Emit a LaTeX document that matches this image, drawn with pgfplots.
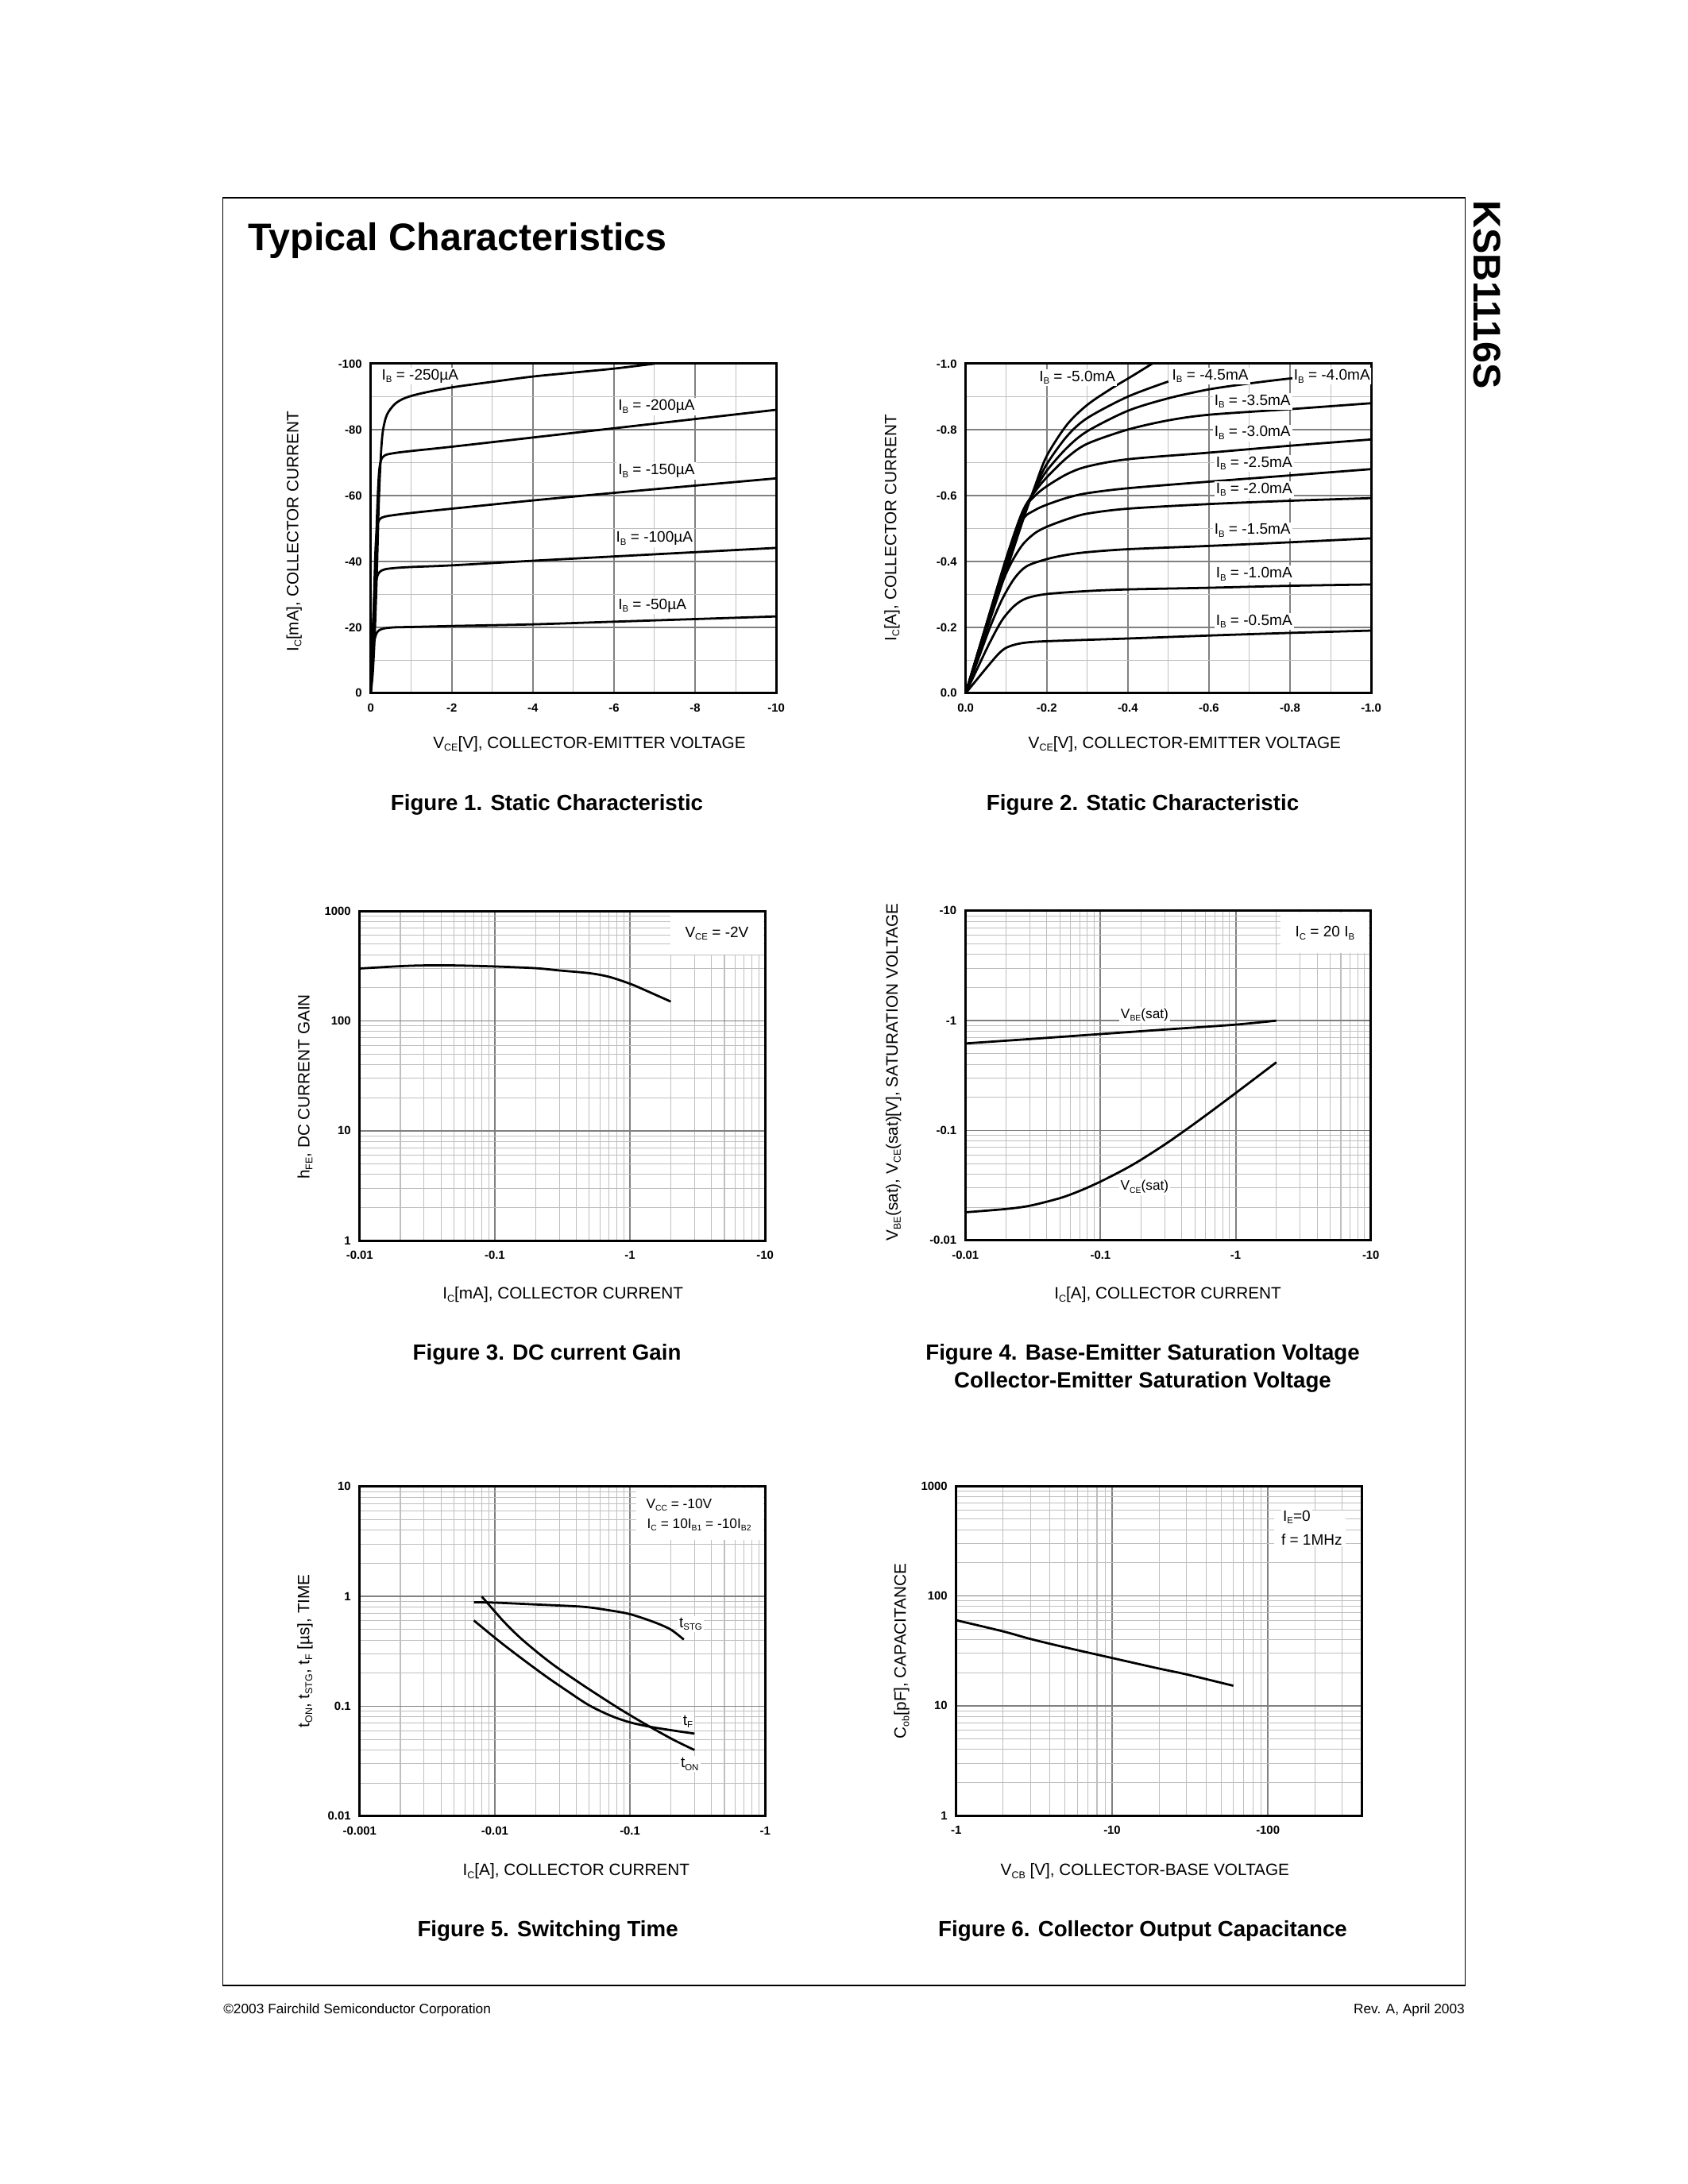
\documentclass[border=0pt]{standalone}
\usepackage{fontspec}
\setmainfont{Liberation Sans}
\usepackage{graphicx}
\usepackage{pgfplots}
\pgfplotsset{compat=1.18}
\newcommand\sub[1]{\raisebox{-0.35ex}{\scalebox{0.6}{#1}}}
\newcommand\tickfont{\fontsize{4.3}{4.8}\selectfont\bfseries}
\newcommand\annofont{\fontsize{5.5}{6.5}\selectfont}
\newcommand\labfont{\fontsize{6}{7}\selectfont}
\newcommand\capfont{\fontsize{8}{9.6}\selectfont\bfseries}
\tikzset{
 anno/.style={font=\annofont, fill=white, inner sep=0.6bp},
 box/.style={font=\annofont, fill=white, inner sep=0pt},
}
\pgfplotsset{
 ds/.style={
   scale only axis, width=147bp, height=119.5bp, anchor=south west,
   axis line style={line width=0.9bp, black},
   grid=both,
   major grid style={line width=0.55bp, draw=black!50},
   minor grid style={line width=0.3bp, draw=black!25},
   major tick length=0pt, minor tick length=0pt,
   tick style={draw=none},
   tick label style={font=\tickfont, inner sep=0pt},
   xticklabel style={anchor=north, yshift=-3.6bp},
   yticklabel style={anchor=east, xshift=-3bp},
 },
 crv/.style={black, line width=0.8bp, smooth, tension=0.5, mark=none},
}
\begin{document}
\begin{tikzpicture}[x=1bp,y=1bp]
\useasboundingbox (0,0) rectangle (612,792);
\fill[white] (0,0) rectangle (612,792);
\draw[line width=0.5bp] (80.8,72) rectangle (531.2,720.3);
\node[anchor=base west, font=\fontsize{14}{16}\selectfont\bfseries, inner sep=0pt] at (89.9,701.1) {Typical Characteristics};
\node[anchor=base west, rotate=-90, font=\fontsize{14}{16}\selectfont\bfseries, inner sep=0pt] at (534.5,719.5) {KSB1116S};
\node[anchor=base west, font=\fontsize{5}{6}\selectfont, inner sep=0pt] at (80.8,61.7) {©2003 Fairchild Semiconductor Corporation};
\node[anchor=base east, font=\fontsize{5}{6}\selectfont, inner sep=0pt] at (531.2,61.7) {Rev. A, April 2003};

% ---------------- Figure 1 ----------------
\begin{axis}[ds, at={(134.4bp,540.6bp)},
  xmin=0, xmax=10, ymin=0, ymax=100,
  xtick={0,2,4,6,8,10}, xticklabels={0,-2,-4,-6,-8,-10},
  ytick={0,20,40,60,80,100}, yticklabels={0,-20,-40,-60,-80,-100},
  minor x tick num=1, minor y tick num=1]
\addplot[crv] coordinates {(0,0)(0.05,6)(0.1,18)(0.15,36)(0.2,58)(0.25,72)(0.3,79.5)(0.4,84.5)(0.6,87.8)(0.85,89.6)(1.25,91)(2,92.8)(3,94.5)(4,96.1)(5,97.3)(6,98.5)(7,100)};
\addplot[crv] coordinates {(0,0)(0.05,10)(0.1,28)(0.15,52)(0.2,66)(0.25,70.5)(0.35,72.2)(0.6,72.9)(1,73.5)(2,74.8)(4,77.6)(6,80.4)(8,83.2)(10,86)};
\addplot[crv] coordinates {(0,0)(0.04,10)(0.08,28)(0.12,44)(0.16,50.5)(0.22,52.8)(0.35,53.6)(0.6,54.1)(1,54.7)(2,56)(4,58.5)(6,60.8)(8,63)(10,65.2)};
\addplot[crv] coordinates {(0,0)(0.03,10)(0.06,22)(0.1,31)(0.15,35)(0.22,36.8)(0.35,37.6)(0.6,38)(1,38.3)(2,38.8)(4,40.2)(6,41.5)(8,42.8)(10,44.1)};
\addplot[crv] coordinates {(0,0)(0.02,6)(0.05,12.5)(0.1,16.5)(0.15,18.3)(0.22,19.2)(0.35,19.7)(0.6,20)(1,20.1)(2,20.4)(4,20.9)(6,21.7)(8,22.5)(10,23.3)};
\node[anno, anchor=west] at (axis cs:0.22,96.2) {I\sub{B} = -250µA};
\node[anno, anchor=west] at (axis cs:6.05,87.0) {I\sub{B} = -200µA};
\node[anno, anchor=west] at (axis cs:6.05,67.4) {I\sub{B} = -150µA};
\node[anno, anchor=west] at (axis cs:6.0,47.0) {I\sub{B} = -100µA};
\node[anno, anchor=west] at (axis cs:6.05,26.6) {I\sub{B} = -50µA};
\end{axis}

% ---------------- Figure 2 ----------------
\begin{axis}[ds, at={(350.1bp,540.6bp)},
  xmin=0, xmax=1, ymin=0, ymax=1,
  xtick={0,0.2,0.4,0.6,0.8,1}, xticklabels={0.0,-0.2,-0.4,-0.6,-0.8,-1.0},
  ytick={0,0.2,0.4,0.6,0.8,1}, yticklabels={0.0,-0.2,-0.4,-0.6,-0.8,-1.0},
  minor x tick num=1, minor y tick num=1]
\addplot[crv] coordinates {(0,0)(0.02,0.03)(0.05,0.075)(0.08,0.118)(0.1,0.138)(0.13,0.15)(0.17,0.156)(0.25,0.16)(0.4,0.166)(0.6,0.175)(0.8,0.183)(1,0.19)};
\addplot[crv] coordinates {(0,0)(0.03,0.078)(0.06,0.155)(0.09,0.222)(0.12,0.265)(0.15,0.288)(0.2,0.301)(0.3,0.31)(0.4,0.315)(0.6,0.32)(0.8,0.326)(1,0.33)};
\addplot[crv] coordinates {(0,0)(0.03,0.1)(0.06,0.2)(0.09,0.285)(0.12,0.348)(0.15,0.385)(0.2,0.407)(0.25,0.42)(0.3,0.428)(0.4,0.437)(0.6,0.447)(0.8,0.458)(1,0.47)};
\addplot[crv] coordinates {(0,0)(0.05,0.2)(0.08,0.305)(0.11,0.39)(0.14,0.45)(0.17,0.485)(0.2,0.505)(0.25,0.528)(0.3,0.545)(0.4,0.56)(0.6,0.574)(0.8,0.584)(1,0.592)};
\addplot[crv] coordinates {(0,0)(0.05,0.205)(0.1,0.405)(0.14,0.525)(0.17,0.555)(0.2,0.572)(0.25,0.593)(0.3,0.607)(0.4,0.622)(0.6,0.642)(0.8,0.661)(1,0.68)};
\addplot[crv] coordinates {(0,0)(0.05,0.205)(0.1,0.41)(0.14,0.55)(0.17,0.598)(0.2,0.628)(0.25,0.665)(0.3,0.688)(0.4,0.71)(0.6,0.73)(0.8,0.751)(1,0.77)};
\addplot[crv] coordinates {(0,0)(0.05,0.2)(0.1,0.4)(0.14,0.55)(0.17,0.61)(0.2,0.655)(0.25,0.715)(0.3,0.757)(0.4,0.8)(0.5,0.828)(0.6,0.845)(0.8,0.862)(1,0.88)};
\addplot[crv] coordinates {(0,0)(0.05,0.195)(0.1,0.39)(0.14,0.54)(0.17,0.615)(0.2,0.675)(0.25,0.745)(0.3,0.795)(0.4,0.857)(0.5,0.895)(0.6,0.922)(0.7,0.94)(0.8,0.955)(0.9,0.966)(1,0.975)};
\addplot[crv] coordinates {(0,0)(0.05,0.19)(0.1,0.38)(0.14,0.53)(0.17,0.62)(0.2,0.695)(0.25,0.78)(0.3,0.835)(0.4,0.9)(0.5,0.946)};
\addplot[crv] coordinates {(0,0)(0.05,0.185)(0.1,0.37)(0.14,0.52)(0.17,0.625)(0.2,0.72)(0.25,0.815)(0.3,0.875)(0.36,0.925)(0.41,0.962)(0.46,1.0)};
\node[anno, anchor=west] at (axis cs:0.176,0.958) {I\sub{B} = -5.0mA};
\node[anno, anchor=west] at (axis cs:0.504,0.962) {I\sub{B} = -4.5mA};
\node[anno, anchor=west] at (axis cs:0.804,0.962) {I\sub{B} = -4.0mA};
\node[anno, anchor=west] at (axis cs:0.608,0.886) {I\sub{B} = -3.5mA};
\node[anno, anchor=west] at (axis cs:0.608,0.79) {I\sub{B} = -3.0mA};
\node[anno, anchor=west] at (axis cs:0.612,0.698) {I\sub{B} = -2.5mA};
\node[anno, anchor=west] at (axis cs:0.612,0.618) {I\sub{B} = -2.0mA};
\node[anno, anchor=west] at (axis cs:0.608,0.494) {I\sub{B} = -1.5mA};
\node[anno, anchor=west] at (axis cs:0.612,0.362) {I\sub{B} = -1.0mA};
\node[anno, anchor=west] at (axis cs:0.612,0.218) {I\sub{B} = -0.5mA};
\end{axis}

% ---------------- Figure 3 ----------------
\begin{axis}[ds, at={(130.4bp,342.1bp)},
  xmode=log, ymode=log,
  xmin=0.01, xmax=10, ymin=1, ymax=1000,
  xtick={0.01,0.1,1,10}, xticklabels={-0.01,-0.1,-1,-10},
  ytick={1,10,100,1000}, yticklabels={1,10,100,1000},
  minor xtick={0.02,0.03,0.04,0.05,0.06,0.07,0.08,0.09,0.2,0.3,0.4,0.5,0.6,0.7,0.8,0.9,2,3,4,5,6,7,8,9},
  minor ytick={2,3,4,5,6,7,8,9,20,30,40,50,60,70,80,90,200,300,400,500,600,700,800,900}]
\addplot[crv] coordinates {(0.01,300)(0.02,315)(0.03,320)(0.05,320)(0.1,313)(0.2,302)(0.3,288)(0.5,272)(0.7,252)(1,218)(1.3,190)(2,150)};
\node[box, minimum width=33.7bp, minimum height=15bp, anchor=north east, xshift=-0.45bp, yshift=-0.45bp] at (rel axis cs:1,1) {V\sub{CE} = -2V};
\end{axis}

% ---------------- Figure 4 ----------------
\begin{axis}[ds, at={(350bp,342.2bp)},
  xmode=log, ymode=log,
  xmin=0.01, xmax=10, ymin=0.01, ymax=10,
  xtick={0.01,0.1,1,10}, xticklabels={-0.01,-0.1,-1,-10},
  ytick={0.01,0.1,1,10}, yticklabels={-0.01,-0.1,-1,-10},
  minor xtick={0.02,0.03,0.04,0.05,0.06,0.07,0.08,0.09,0.2,0.3,0.4,0.5,0.6,0.7,0.8,0.9,2,3,4,5,6,7,8,9},
  minor ytick={0.02,0.03,0.04,0.05,0.06,0.07,0.08,0.09,0.2,0.3,0.4,0.5,0.6,0.7,0.8,0.9,2,3,4,5,6,7,8,9}]
\addplot[crv] coordinates {(0.01,0.62)(0.03,0.68)(0.1,0.755)(0.3,0.83)(1,0.92)(2,1.0)};
\addplot[crv] coordinates {(0.01,0.018)(0.02,0.0193)(0.03,0.02066)(0.05,0.02421)(0.07,0.02816)(0.1,0.03427)(0.15,0.04424)(0.2,0.05428)(0.3,0.0748)(0.45,0.106)(0.65,0.1475)(1,0.2192)(1.5,0.3196)(2,0.4177)};
\node[anno, font=\fontsize{5}{6}\selectfont] at (axis cs:0.212,1.13) {V\sub{BE}(sat)};
\node[anno, font=\fontsize{5}{6}\selectfont] at (axis cs:0.212,0.0307) {V\sub{CE}(sat)};
\node[box, minimum width=32bp, minimum height=14.8bp, anchor=north east, xshift=-0.45bp, yshift=-0.45bp] at (rel axis cs:1,1) {I\sub{C} = 20 I\sub{B}};
\end{axis}

% ---------------- Figure 5 ----------------
\begin{axis}[ds, at={(130.4bp,133.4bp)},
  xmode=log, ymode=log,
  xmin=0.001, xmax=1, ymin=0.01, ymax=10,
  xtick={0.001,0.01,0.1,1}, xticklabels={-0.001,-0.01,-0.1,-1},
  ytick={0.01,0.1,1,10}, yticklabels={0.01,0.1,1,10},
  minor xtick={0.002,0.003,0.004,0.005,0.006,0.007,0.008,0.009,0.02,0.03,0.04,0.05,0.06,0.07,0.08,0.09,0.2,0.3,0.4,0.5,0.6,0.7,0.8,0.9},
  minor ytick={0.02,0.03,0.04,0.05,0.06,0.07,0.08,0.09,0.2,0.3,0.4,0.5,0.6,0.7,0.8,0.9,2,3,4,5,6,7,8,9}]
\addplot[crv] coordinates {(0.007,0.885)(0.01,0.878)(0.02,0.845)(0.045,0.805)(0.07,0.748)(0.1,0.69)(0.15,0.585)(0.2,0.5)(0.25,0.405)};
\addplot[crv] coordinates {(0.008,1.0)(0.0117,0.587)(0.0162,0.398)(0.0262,0.246)(0.0448,0.156)(0.0766,0.1016)(0.1,0.0831)(0.1416,0.0647)(0.212,0.0492)(0.3,0.040)};
\addplot[crv] coordinates {(0.007,0.604)(0.0117,0.361)(0.0223,0.199)(0.0343,0.138)(0.0499,0.102)(0.0725,0.0818)(0.1,0.0714)(0.1416,0.065)(0.212,0.060)(0.3,0.0564)};
\node[box, minimum width=46bp, minimum height=18.7bp, anchor=north east, xshift=-0.45bp, yshift=-0.45bp] at (rel axis cs:1,1) {};
\node[anno, anchor=west, font=\fontsize{5}{6}\selectfont] at (axis cs:0.127,6.8) {V\sub{CC} = -10V};
\node[anno, anchor=west, font=\fontsize{5}{6}\selectfont] at (axis cs:0.129,4.48) {I\sub{C} = 10I\sub{B1} = -10I\sub{B2}};
\node[anno, anchor=west] at (axis cs:0.223,0.562) {t\sub{STG}};
\node[anno, anchor=west] at (axis cs:0.238,0.0727) {t\sub{F}};
\node[anno, anchor=west] at (axis cs:0.229,0.0298) {t\sub{ON}};
\end{axis}

% ---------------- Figure 6 ----------------
\begin{axis}[ds, at={(346.7bp,133.6bp)},
  xmode=log, ymode=log,
  xmin=1, xmax=400, ymin=1, ymax=1000,
  xtick={1,10,100}, xticklabels={-1,-10,-100},
  ytick={1,10,100,1000}, yticklabels={1,10,100,1000},
  minor xtick={2,3,4,5,6,7,8,9,20,30,40,50,60,70,80,90,200,300},
  minor ytick={2,3,4,5,6,7,8,9,20,30,40,50,60,70,80,90,200,300,400,500,600,700,800,900}]
\addplot[crv] coordinates {(1,60)(2,47.5)(3,40.5)(5,34)(10,27.2)(20,21.8)(30,19.3)(60,15.2)};
\node[box, minimum width=26bp, minimum height=13bp] at (axis cs:186,413) {};
\node[anno, anchor=west] at (axis cs:121,521) {I\sub{E}=0};
\node[anno, anchor=west] at (axis cs:118,326) {f = 1MHz};
\end{axis}

% ---------------- Labels and captions ----------------
\node[font=\labfont] at (213.7,522.2) {V\sub{CE}[V], COLLECTOR-EMITTER VOLTAGE};
\node[font=\labfont, rotate=90] at (106.6,599.2) {I\sub{C}[mA], COLLECTOR CURRENT};
\node[font=\capfont] at (198.3,500) {Figure 1. Static Characteristic};

\node[font=\labfont] at (429.5,522.2) {V\sub{CE}[V], COLLECTOR-EMITTER VOLTAGE};
\node[font=\labfont, rotate=90] at (323.4,600.5) {I\sub{C}[A], COLLECTOR CURRENT};
\node[font=\capfont] at (414.3,500) {Figure 2. Static Characteristic};

\node[font=\labfont] at (204.1,322.6) {I\sub{C}[mA], COLLECTOR CURRENT};
\node[font=\labfont, rotate=90] at (110.6,397.9) {h\sub{FE}, DC CURRENT GAIN};
\node[font=\capfont] at (198.3,300.9) {Figure 3. DC current Gain};

\node[font=\labfont] at (423.4,322.6) {I\sub{C}[A], COLLECTOR CURRENT};
\node[font=\labfont, rotate=90] at (323.9,403.2) {V\sub{BE}(sat), V\sub{CE}(sat)[V], SATURATION VOLTAGE};
\node[font=\capfont] at (414.3,300.9) {Figure 4. Base-Emitter Saturation Voltage};
\node[font=\capfont] at (414.3,290.8) {Collector-Emitter Saturation Voltage};

\node[font=\labfont] at (208.9,113.5) {I\sub{C}[A], COLLECTOR CURRENT};
\node[font=\labfont, rotate=90] at (110.6,193.3) {t\sub{ON}, t\sub{STG}, t\sub{F} [µs], TIME};
\node[font=\capfont] at (198.6,91.7) {Figure 5. Switching Time};

\node[font=\labfont] at (415.1,113.5) {V\sub{CB} [V], COLLECTOR-BASE VOLTAGE};
\node[font=\labfont, rotate=90] at (326.9,193.3) {C\sub{ob}[pF], CAPACITANCE};
\node[font=\capfont] at (414.3,91.7) {Figure 6. Collector Output Capacitance};
\end{tikzpicture}
\end{document}
